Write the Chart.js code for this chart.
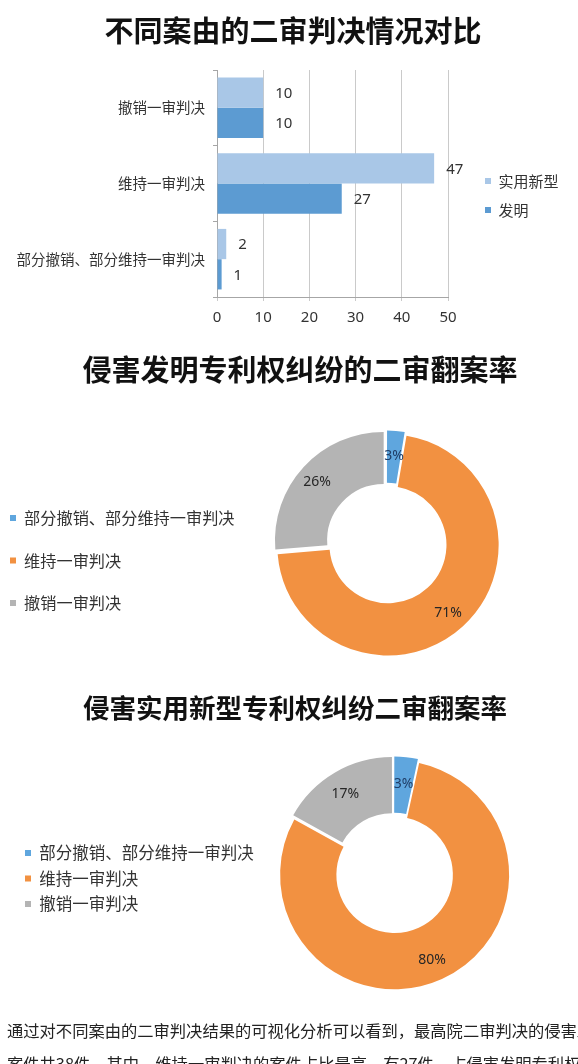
<!DOCTYPE html>
<html lang="zh-CN">
<head>
<meta charset="utf-8">
<title>二审判决情况对比</title>
<script src="https://cdn.jsdelivr.net/npm/chart.js@4.4.1/dist/chart.umd.min.js"></script>
<style>
    html, body { margin: 0; padding: 0; background: #fff; }
    body { width: 578px; height: 1064px; position: relative; overflow: hidden; }
    .box { position: absolute; left: 0; width: 578px; }
    #barBox { top: 0; height: 340px; }
    #pie1Box { top: 340px; height: 360px; }
    #pie2Box { top: 670px; height: 394px; }
    .note {
        position: absolute; left: 7px; top: 1014px; width: 571px;
        font: 16.3px "Noto Sans CJK SC", sans-serif; color: #222; line-height: 33px;
    }
    .note div { white-space: nowrap; overflow: hidden; }
</style>
</head>
<body>
<div class="box" id="barBox"><canvas id="barChart"></canvas></div>
<div class="box" id="pie1Box"><canvas id="pie1Chart"></canvas></div>
<div class="box" id="pie2Box"><canvas id="pie2Chart"></canvas></div>
<div class="note">
    <div>通过对不同案由的二审判决结果的可视化分析可以看到，最高院二审判决的侵害发明专利权纠纷</div>
    <div>案件共38件，其中，维持一审判决的案件占比最高，有27件，占侵害发明专利权纠纷案件的71%。</div>
</div>

<script>
// Data
const verdictTypes = ['撤销一审判决', '维持一审判决', '部分撤销、部分维持一审判决'];
const utilityCounts = [10, 47, 2];    // 实用新型
const inventionCounts = [10, 27, 1];  // 发明
const valueTicks = [0, 10, 20, 30, 40, 50];

const shareTypes = ['部分撤销、部分维持一审判决', '维持一审判决', '撤销一审判决'];
const inventionShare = [1, 27, 10];
const utilityShare = [2, 47, 10];

Chart.defaults.font.family = '"Noto Sans CJK SC", "Noto Sans", sans-serif';
Chart.defaults.color = '#333';
Chart.defaults.animation = false;

const EXPLODE = 4; // px each slice is pulled out

// move the legend so its first item starts at opts.x / opts.y
const legendPlacer = {
    id: 'legendPlacer',
    afterLayout(chart, args, opts) {
        const lg = chart.legend;
        if (!lg || opts.x === undefined) return;
        const pad = lg.options.labels.padding;
        const dx = opts.x - (lg.left + pad);
        const dy = opts.y - (lg.top + pad);
        lg.left += dx;
        lg.top += dy;
        // keep the box wide enough so the labels are not clipped
        lg.right = chart.width;
        lg.bottom = chart.height;
        lg.width = lg.right - lg.left;
        lg.height = lg.bottom - lg.top;
    }
};

// numbers at the end of bars
const barValueLabels = {
    id: 'barValueLabels',
    afterDatasetsDraw(chart) {
        const ctx = chart.ctx;
        ctx.save();
        ctx.font = '15px "Noto Sans", sans-serif';
        ctx.fillStyle = '#333';
        ctx.textAlign = 'left';
        ctx.textBaseline = 'middle';
        chart.data.datasets.forEach((ds, i) => {
            chart.getDatasetMeta(i).data.forEach((bar, j) => {
                ctx.fillText(ds.data[j], bar.x + 12, bar.y + 1);
            });
        });
        ctx.restore();
    }
};

// percentages inside the ring
const sliceLabels = {
    id: 'sliceLabels',
    afterDatasetsDraw(chart, args, opts) {
        const ctx = chart.ctx;
        const ds = chart.data.datasets[0];
        const total = ds.data.reduce((a, b) => a + b, 0);
        ctx.save();
        ctx.font = '14px "Noto Sans", sans-serif';
        ctx.textAlign = 'center';
        ctx.textBaseline = 'middle';
        chart.getDatasetMeta(0).data.forEach((arc, i) => {
            const p = arc.getCenterPoint();
            const mid = (arc.startAngle + arc.endAngle) / 2;
            ctx.fillStyle = opts.colors[i];
            ctx.fillText(Math.round(ds.data[i] / total * 100) + '%',
                p.x + Math.cos(mid) * EXPLODE, p.y + Math.sin(mid) * EXPLODE + 3);
        });
        ctx.restore();
    }
};

// Chart.js moves an arc by offset/4*(1+fix); undo that so every slice moves EXPLODE px
function explodeOffset(ctx) {
    if (ctx.dataIndex === undefined) return 0;
    const data = ctx.dataset.data;
    const total = data.reduce((a, b) => a + b, 0);
    const circ = data[ctx.dataIndex] / total * Math.PI * 2;
    const fix = 1 - Math.sin(Math.min(Math.PI, circ));
    return 4 * EXPLODE / (1 + fix);
}

function initBarChart() {
    const ctx = document.getElementById('barChart').getContext('2d');
    new Chart(ctx, {
        type: 'bar',
        data: {
            labels: verdictTypes,
            datasets: [{
                label: '实用新型',
                data: utilityCounts,
                backgroundColor: '#a9c7e7'
            }, {
                label: '发明',
                data: inventionCounts,
                backgroundColor: '#5c9bd2'
            }]
        },
        options: {
            indexAxis: 'y',
            responsive: true,
            maintainAspectRatio: false,
            layout: { padding: { left: 8 } },
            datasets: { bar: { barPercentage: 1, categoryPercentage: 0.8 } },
            scales: {
                x: {
                    min: valueTicks[0],
                    max: valueTicks[valueTicks.length - 1],
                    ticks: {
                        stepSize: valueTicks[1] - valueTicks[0],
                        padding: 8,
                        color: '#333',
                        font: { size: 15, family: '"Noto Sans", sans-serif' }
                    },
                    grid: { color: '#cacaca', tickLength: 4 },
                    border: { color: '#a6a6a6' },
                    afterFit(scale) {
                        scale.paddingRight = 130;
                        scale.height = 43;
                    }
                },
                y: {
                    ticks: { padding: 8, color: '#333', font: { size: 14.5 } },
                    grid: { drawOnChartArea: false, tickLength: 4, color: '#a6a6a6' },
                    border: { color: '#a6a6a6' },
                    afterFit(scale) {
                        scale.width = 209;
                    }
                }
            },
            plugins: {
                title: {
                    display: true,
                    text: '不同案由的二审判决情况对比',
                    color: '#111',
                    font: { size: 29, weight: 'bold' },
                    padding: { top: 13.6, bottom: 21.6 }
                },
                legend: {
                    position: 'right',
                    align: 'start',
                    labels: { boxWidth: 6, boxHeight: 6, padding: 14, color: '#333', font: { size: 15 } }
                },
                legendPlacer: { x: 485, y: 173.5 },
                tooltip: { enabled: false }
            }
        },
        plugins: [barValueLabels, legendPlacer]
    });
}

function initDonut(canvasId, opts) {
    const ctx = document.getElementById(canvasId).getContext('2d');
    new Chart(ctx, {
        type: 'doughnut',
        data: {
            labels: shareTypes,
            datasets: [{
                data: opts.values,
                backgroundColor: ['#5fa6de', '#f29141', '#b4b4b4'],
                borderWidth: 0,
                offset: explodeOffset,
                hoverOffset: 0
            }]
        },
        options: {
            responsive: true,
            maintainAspectRatio: false,
            cutout: opts.cutout,
            radius: opts.radius,
            layout: { padding: opts.padding },
            plugins: {
                title: {
                    display: true,
                    text: opts.title,
                    color: '#111',
                    font: { size: opts.titleSize, weight: 'bold' },
                    padding: opts.titlePadding
                },
                legend: {
                    position: 'left',
                    align: 'start',
                    maxWidth: opts.legendWidth,
                    labels: {
                        boxWidth: 6, boxHeight: 6,
                        padding: opts.legendGap,
                        color: '#333',
                        font: { size: opts.legendSize }
                    }
                },
                legendPlacer: opts.legendAt,
                sliceLabels: { colors: ['#1f3d66', '#262626', '#262626'] },
                tooltip: { enabled: false }
            }
        },
        plugins: [sliceLabels, legendPlacer]
    });
}

document.addEventListener('DOMContentLoaded', function () {
    initBarChart();

    initDonut('pie1Chart', {
        values: inventionShare,
        title: '侵害发明专利权纠纷的二审翻案率',
        titleSize: 29,
        titlePadding: { top: 12.6, bottom: 10 },
        padding: { left: 22, bottom: 10.8 },
        legendWidth: 173.2,
        legendGap: 26.3,
        legendSize: 16.2,
        legendAt: { x: 10, y: 170 },
        radius: 108.7,
        cutout: '52%'
    });

    initDonut('pie2Chart', {
        values: utilityShare,
        title: '侵害实用新型专利权纠纷二审翻案率',
        titleSize: 26.5,
        titlePadding: { top: 22.1, bottom: 5 },
        padding: { left: 12, bottom: 46.9 },
        legendWidth: 197.6,
        legendGap: 9,
        legendSize: 16.5,
        legendAt: { x: 25, y: 174.7 },
        radius: 112.5,
        cutout: '50%'
    });
});
</script>
</body>
</html>
